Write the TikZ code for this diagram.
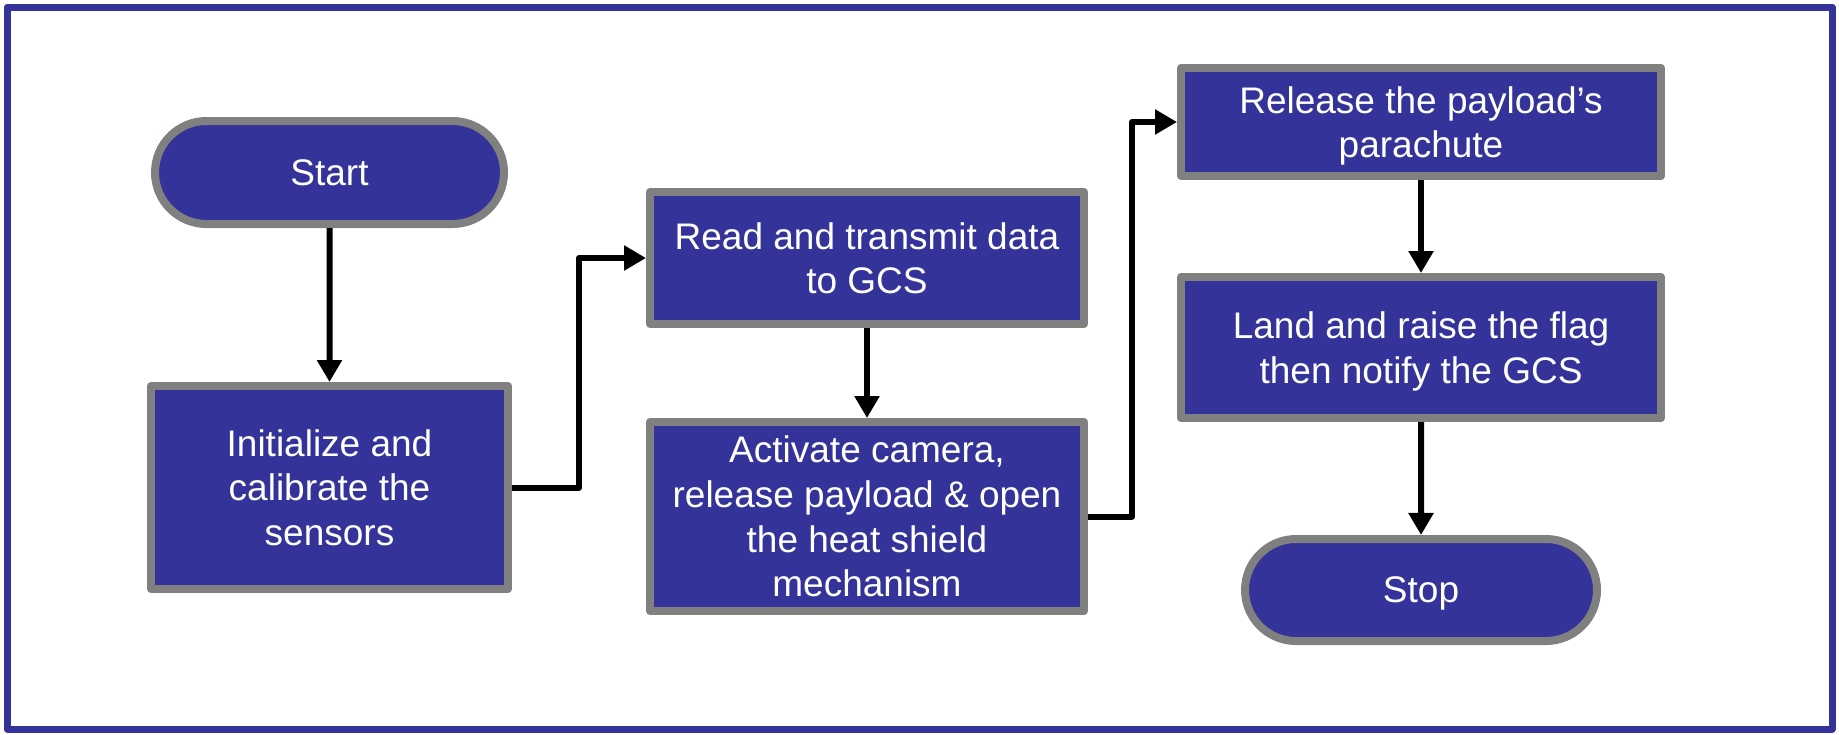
\documentclass[tikz,border=0pt]{standalone}
\usepackage{fontspec}
\setmainfont{Liberation Sans}
\usepackage{xcolor}
\usepackage{tikz}
\usetikzlibrary{arrows.meta,positioning,shapes.misc}
\definecolor{boxblue}{HTML}{333399}
\definecolor{edgegray}{HTML}{808080}

\begin{document}
\begin{tikzpicture}[
  node distance=50pt,
  process/.style={rectangle,draw=edgegray,line width=4pt,line join=round,fill=boxblue,text=white,
                  inner sep=2pt,align=center,text depth=0pt,font=\fontsize{18.5}{22.35}\selectfont},
  terminal/.style={process,rounded rectangle},
  arrow/.style={-{Triangle[length=11pt,width=12pt]},line width=3pt,draw=black,line join=round}
]
  \useasboundingbox (0,0) rectangle (919.5pt,-367pt);
  \draw[boxblue,line width=3.5pt,line join=round] (3.5pt,-3.5pt) rectangle (916pt,-364.5pt);

  \node[terminal,minimum width=178.5pt,minimum height=51.5pt] (start) at (164.75pt,-86.25pt) {Start};
  \node[process,minimum width=178.5pt,minimum height=101.5pt,below=77pt of start] (init) {Initialize and\\calibrate the\\sensors};
  \node[process,minimum width=217pt,minimum height=66pt] (read) at (433.5pt,-129pt) {Read and transmit data\\to GCS};
  \node[process,minimum width=217pt,minimum height=94.5pt,below=45pt of read] (activate) {Activate camera,\\release payload \& open\\the heat shield\\mechanism};
  \node[process,minimum width=240pt,minimum height=54pt] (release) at (710.5pt,-61pt) {Release the payload's\\parachute};
  \node[process,minimum width=240pt,minimum height=70.5pt,below=46.5pt of release] (land) {Land and raise the flag\\then notify the GCS};
  \node[terminal,minimum width=180pt,minimum height=51pt,below=56.5pt of land] (stop) {Stop};

  \draw[arrow] (start) -- (init);
  \draw[arrow] (init.east) -- ++(33.5pt,0) |- (read.west);
  \draw[arrow] (read) -- (activate);
  \draw[arrow] (activate.east) -- ++(22pt,0) |- (release.west);
  \draw[arrow] (release) -- (land);
  \draw[arrow] (land) -- (stop);
\end{tikzpicture}
\end{document}
